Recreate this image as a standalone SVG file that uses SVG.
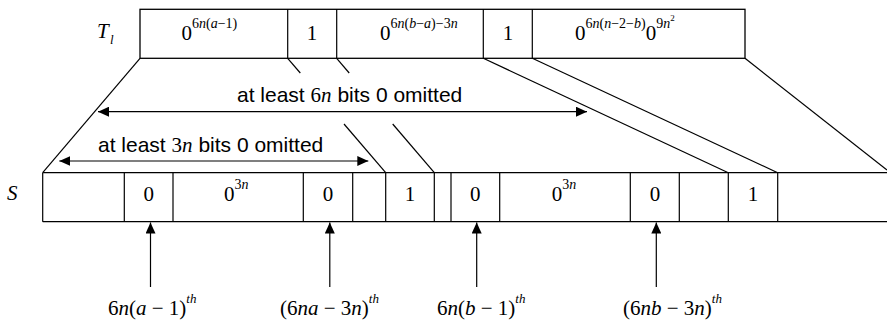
<svg xmlns="http://www.w3.org/2000/svg" width="887" height="321" viewBox="0 0 887 321">
<style>
.box{fill:#fff;stroke:#000;stroke-width:1.3}
.ln{fill:none;stroke:#000;stroke-width:1.2}
.ser{font-family:"Liberation Serif","Times New Roman",serif;font-size:21px;fill:#000}
.sans{font-family:"Liberation Sans",Arial,sans-serif;font-size:21px;fill:#000}
.it{font-style:italic}
.sup{font-size:14px}
</style>
<defs>
<marker id="ah" markerUnits="userSpaceOnUse" markerWidth="12" markerHeight="10" refX="11" refY="5" orient="auto-start-reverse">
<path d="M0,0 L11,5 L0,10 z" fill="#000"/>
</marker>
</defs>

<g id="row-T">
<rect class="box" x="140" y="9.3" width="605" height="49"/>
<line class="ln" x1="287.7" y1="9.3" x2="287.7" y2="58.3"/>
<line class="ln" x1="336.7" y1="9.3" x2="336.7" y2="58.3"/>
<line class="ln" x1="483.3" y1="9.3" x2="483.3" y2="58.3"/>
<line class="ln" x1="532.3" y1="9.3" x2="532.3" y2="58.3"/>
<text class="ser it" x="97" y="38">T</text>
<text class="ser it" x="110" y="44" style="font-size:13px">l</text>
<text class="ser" x="181.5" y="40">0<tspan class="sup" y="28">6<tspan class="it">n</tspan>(<tspan class="it">a</tspan>−1)</tspan></text>
<text class="ser" x="312" y="40" text-anchor="middle">1</text>
<text class="ser" x="380" y="40">0<tspan class="sup" y="28">6<tspan class="it">n</tspan>(<tspan class="it">b</tspan>−<tspan class="it">a</tspan>)−3<tspan class="it">n</tspan></tspan></text>
<text class="ser" x="508" y="40" text-anchor="middle">1</text>
<text class="ser" x="575" y="40">0<tspan class="sup" y="28">6<tspan class="it">n</tspan>(<tspan class="it">n</tspan>−2−<tspan class="it">b</tspan>)</tspan><tspan y="40">0</tspan><tspan class="sup" y="28">9<tspan class="it">n</tspan></tspan><tspan y="21" style="font-size:9px">2</tspan></text>
</g>

<g id="row-S">
<line class="ln" x1="42.7" y1="172.7" x2="887" y2="172.7"/>
<line class="ln" x1="42.7" y1="221.7" x2="887" y2="221.7"/>
<line class="ln" x1="42.7" y1="172.7" x2="42.7" y2="221.7"/>
<line class="ln" x1="124.3" y1="172.7" x2="124.3" y2="221.7"/>
<line class="ln" x1="173" y1="172.7" x2="173" y2="221.7"/>
<line class="ln" x1="303.3" y1="172.7" x2="303.3" y2="221.7"/>
<line class="ln" x1="352.7" y1="172.7" x2="352.7" y2="221.7"/>
<line class="ln" x1="385.7" y1="172.7" x2="385.7" y2="221.7"/>
<line class="ln" x1="434.3" y1="172.7" x2="434.3" y2="221.7"/>
<line class="ln" x1="451" y1="172.7" x2="451" y2="221.7"/>
<line class="ln" x1="499.7" y1="172.7" x2="499.7" y2="221.7"/>
<line class="ln" x1="630.3" y1="172.7" x2="630.3" y2="221.7"/>
<line class="ln" x1="679.3" y1="172.7" x2="679.3" y2="221.7"/>
<line class="ln" x1="728.3" y1="172.7" x2="728.3" y2="221.7"/>
<line class="ln" x1="777.7" y1="172.7" x2="777.7" y2="221.7"/>
<text class="ser it" x="7" y="200">S</text>
<text class="ser" x="148.7" y="201" text-anchor="middle">0</text>
<text class="ser" x="224" y="201">0<tspan class="sup" y="189">3<tspan class="it">n</tspan></tspan></text>
<text class="ser" x="328" y="201" text-anchor="middle">0</text>
<text class="ser" x="410" y="201" text-anchor="middle">1</text>
<text class="ser" x="475.3" y="201" text-anchor="middle">0</text>
<text class="ser" x="551.7" y="201">0<tspan class="sup" y="189">3<tspan class="it">n</tspan></tspan></text>
<text class="ser" x="655" y="201" text-anchor="middle">0</text>
<text class="ser" x="753" y="201" text-anchor="middle">1</text>
</g>

<g id="label-6n">
<text class="sans" x="237" y="102">at least <tspan class="ser">6<tspan class="it">n</tspan></tspan> bits 0 omitted</text>
</g>
<g id="label-3n">
<text class="sans" x="98" y="151.5">at least <tspan class="ser">3<tspan class="it">n</tspan></tspan> bits 0 omitted</text>
</g>

<g id="pos-labels">
<text class="ser" x="108" y="315">6<tspan class="it">n</tspan>(<tspan class="it">a</tspan> − 1)<tspan class="it" style="font-size:13px" y="303">th</tspan></text>
<text class="ser" x="280" y="315">(6<tspan class="it">na</tspan> − 3<tspan class="it">n</tspan>)<tspan class="it" style="font-size:13px" y="303">th</tspan></text>
<text class="ser" x="437" y="315">6<tspan class="it">n</tspan>(<tspan class="it">b</tspan> − 1)<tspan class="it" style="font-size:13px" y="303">th</tspan></text>
<text class="ser" x="623" y="315">(6<tspan class="it">nb</tspan> − 3<tspan class="it">n</tspan>)<tspan class="it" style="font-size:13px" y="303">th</tspan></text>
</g>

<g id="connectors">
<line class="ln" x1="140" y1="58.3" x2="42.7" y2="172.7"/>
<line class="ln" x1="287.7" y1="58.3" x2="300.3" y2="73"/>
<line class="ln" x1="344" y1="124" x2="385.7" y2="172.7"/>
<line class="ln" x1="336.7" y1="58.3" x2="349.2" y2="73"/>
<line class="ln" x1="392.7" y1="124" x2="434.3" y2="172.7"/>
<line class="ln" x1="483.3" y1="58.3" x2="728.3" y2="172.7"/>
<line class="ln" x1="532.3" y1="58.3" x2="777.7" y2="172.7"/>
<line class="ln" x1="745" y1="58.3" x2="887" y2="170"/>
<line class="ln" x1="98" y1="111.7" x2="587" y2="111.7" marker-start="url(#ah)" marker-end="url(#ah)"/>
<line class="ln" x1="59.3" y1="161" x2="368.3" y2="161" marker-start="url(#ah)" marker-end="url(#ah)"/>
<line class="ln" x1="150.5" y1="287" x2="150.5" y2="222.5" marker-end="url(#ah)"/>
<line class="ln" x1="329.8" y1="287" x2="329.8" y2="222.5" marker-end="url(#ah)"/>
<line class="ln" x1="476.7" y1="287" x2="476.7" y2="222.5" marker-end="url(#ah)"/>
<line class="ln" x1="656.3" y1="287" x2="656.3" y2="222.5" marker-end="url(#ah)"/>
</g>
</svg>
